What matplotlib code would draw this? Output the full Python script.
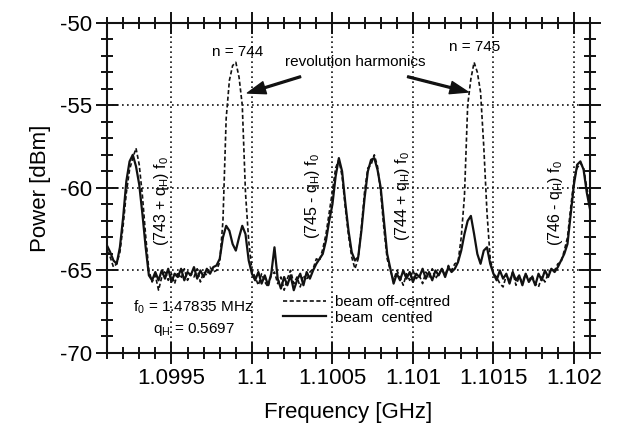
import matplotlib
matplotlib.use('Agg')
import matplotlib.pyplot as plt
import numpy as np
from matplotlib.ticker import FixedLocator, MultipleLocator

# spectrum analyser sweep (GHz)
freq_start = 1.0991
freq_stop = 1.1021
n_points = 151

# beam centred (solid trace), dBm
power_centred = [
    -63.5, -63.9, -64.4, -64.6, -63.6, -61.8, -59.6, -58.4, -58.0, -58.7,
    -59.8, -61.6, -63.6, -65.3, -65.6,
    -65.1, -65.6, -65.0, -65.5, -64.9, -65.7, -65.2, -65.4, -64.9, -65.6,
    -65.1, -65.3, -64.8, -65.5, -65.0, -65.4, -64.9, -65.2, -64.8,
    -64.7, -64.3, -63.0, -62.3, -62.6, -63.4, -63.8, -63.0, -62.3, -62.8,
    -64.4, -65.2,
    -65.6, -65.1, -65.8, -65.3, -65.9, -65.2, -63.6, -65.5, -66.1, -65.4,
    -65.9, -65.3, -66.2, -65.6, -65.2, -65.9, -65.1, -65.5,
    -65.0, -64.6, -64.3, -64.0, -63.2, -62.0, -61.0, -59.3, -58.2, -59.0,
    -60.9, -62.6, -63.9, -64.4, -64.2, -62.6, -60.6, -59.0, -58.3, -58.2,
    -58.9, -60.0, -62.0, -64.0, -64.9, -65.8,
    -65.2, -65.6, -65.0, -65.5, -65.1, -65.7, -65.2, -65.4, -64.9, -65.5,
    -65.1, -65.6, -65.0, -65.3, -64.9, -65.4, -64.8, -65.1,
    -64.9, -64.5, -63.8, -62.8, -62.0, -61.7, -62.8, -64.0, -64.6, -63.8,
    -63.6, -64.6, -65.2,
    -65.6, -65.0, -65.5, -65.2, -65.8, -65.1, -65.6, -65.3, -65.9, -65.2,
    -65.7, -65.4, -65.9, -65.2, -65.6, -65.0, -65.4, -64.9, -65.1,
    -64.8, -64.4, -64.0, -63.4, -61.6, -59.8, -58.6, -58.4, -58.9, -60.3,
    -61.3,
]

# beam off-centred (dashed trace), dBm
power_off_centred = [
    -63.8, -64.2, -64.8, -64.6, -63.9, -62.3, -60.3, -58.9, -58.2, -57.6,
    -58.6, -60.5, -62.9, -65.0, -65.7,
    -65.3, -66.2, -65.4, -65.0, -65.6, -65.2, -65.8, -65.1, -65.5, -64.9,
    -65.6, -65.2, -65.4, -64.9, -65.7, -65.1, -65.3, -64.8, -65.1,
    -65.0, -64.5, -62.0, -55.8, -53.5, -52.6, -52.4, -53.3, -55.0, -60.3,
    -63.2, -65.0,
    -65.4, -65.9, -65.2, -65.7, -66.0, -65.3, -65.1, -65.8, -65.4, -66.2,
    -65.5, -65.0, -65.8, -65.4, -66.0, -65.3, -65.6, -65.1,
    -64.9, -64.3, -64.4, -63.7, -62.8, -61.5, -60.2, -58.8, -58.3, -59.3,
    -61.2, -62.9, -64.2, -64.9, -64.3, -62.4, -60.2, -58.8, -58.6, -58.0,
    -58.7, -60.3, -62.5, -64.3, -65.0, -65.6,
    -65.0, -65.4, -65.9, -65.2, -65.6, -65.0, -65.5, -65.3, -65.8, -65.1,
    -65.4, -64.9, -65.5, -65.2, -64.9, -65.3, -64.7, -65.0,
    -64.6, -64.5, -63.0, -60.5, -55.0, -53.4, -52.4, -53.0, -54.2, -57.5,
    -61.5, -64.3, -65.2,
    -65.4, -65.8, -66.0, -65.3, -65.6, -65.1, -65.9, -65.4, -65.7, -65.2,
    -65.6, -65.3, -65.8, -66.0, -65.4, -65.7, -65.2, -64.9, -65.0,
    -64.6, -64.5, -63.8, -63.0, -61.2, -59.5, -58.8, -58.5, -58.8, -60.0,
    -61.0,
]

xticks = [1.0995, 1.1, 1.1005, 1.101, 1.1015, 1.102]
xtick_labels = ['1.0995', '1.1', '1.1005', '1.101', '1.1015', '1.102']
yticks = [-70, -65, -60, -55, -50]
ytick_labels = ['-70', '-65', '-60', '-55', '-50']

plt.rcParams['font.family'] = ['Liberation Sans', 'DejaVu Sans']
plt.rcParams['axes.unicode_minus'] = False

freq = np.linspace(freq_start, freq_stop, n_points)

fig = plt.figure(figsize=(6.19, 4.24), dpi=100)
ax = fig.add_axes([0.1729, 0.1675, 0.7803, 0.779])

line_off, = ax.plot(freq, power_off_centred, color='#111111', lw=1.2,
                    linestyle=(0, (2.5, 1.5)), zorder=3)
line_c, = ax.plot(freq, power_centred, color='#111111', lw=1.6, zorder=4)

ax.set_xlim(freq_start, freq_stop)
ax.set_ylim(-70, -50)
ax.xaxis.set_major_locator(FixedLocator(xticks))
ax.set_xticklabels(xtick_labels)
ax.yaxis.set_major_locator(FixedLocator(yticks))
ax.set_yticklabels(ytick_labels)
ax.xaxis.set_minor_locator(MultipleLocator(0.0001))
ax.yaxis.set_minor_locator(MultipleLocator(1))

ax.tick_params(which='major', direction='inout', length=16, width=1.4,
               top=True, right=True, labelsize=16, pad=3, color='#111111')
ax.tick_params(which='minor', direction='inout', length=9, width=1.4,
               top=True, right=True, color='#111111')
for s in ax.spines.values():
    s.set_linewidth(1.5)
    s.set_color('#111111')

ax.grid(True, which='major', color='#111111', linestyle=(0, (1, 2)), lw=1.2)

ax.set_xlabel('Frequency [GHz]', fontsize=16, labelpad=9)
ax.set_ylabel('Power [dBm]', fontsize=16, labelpad=6)

# annotations
ax.text(1.09991, -51.8, 'n = 744', ha='center', va='center', fontsize=11)
ax.text(1.101386, -51.5, 'n = 745', ha='center', va='center', fontsize=11)
ax.text(1.100639, -52.4, 'revolution harmonics', ha='center', va='center', fontsize=11)
arrow = dict(facecolor='#111111', edgecolor='#111111', width=1.3,
             headwidth=9, headlength=13, shrink=0)
ax.annotate('', xy=(1.099972, -54.26), xytext=(1.100302, -53.27), arrowprops=arrow)
ax.annotate('', xy=(1.101343, -54.2), xytext=(1.100967, -53.27), arrowprops=arrow)

side_labels = [r'(743 + q$_\mathregular{H}$) f$_\mathregular{0}$',
               r'(745 - q$_\mathregular{H}$) f$_\mathregular{0}$',
               r'(744 + q$_\mathregular{H}$) f$_\mathregular{0}$',
               r'(746 - q$_\mathregular{H}$) f$_\mathregular{0}$']
side_x = [1.099436, 1.100377, 1.100938, 1.101885]
side_y = [-60.8, -60.5, -60.5, -60.9]
for lab, sx, sy in zip(side_labels, side_x, side_y):
    ax.text(sx, sy, lab, rotation=90, ha='center', va='center', fontsize=11.5)

ax.text(1.099262, -67.2, r'f$_\mathregular{0}$ = 1.47835 MHz', ha='left',
        va='center', fontsize=11)
ax.text(1.099387, -68.6, r'q$_\mathregular{H}$ = 0.5697', ha='left',
        va='center', fontsize=11)

ax.legend([line_off, line_c], ['beam off-centred', 'beam  centred'],
          loc='upper left', bbox_to_anchor=(0.365, 0.175), frameon=False,
          fontsize=11, handlelength=2.8, handletextpad=0.6, labelspacing=0.1,
          borderpad=0, borderaxespad=0)

fig.savefig('out.png', dpi=100)
